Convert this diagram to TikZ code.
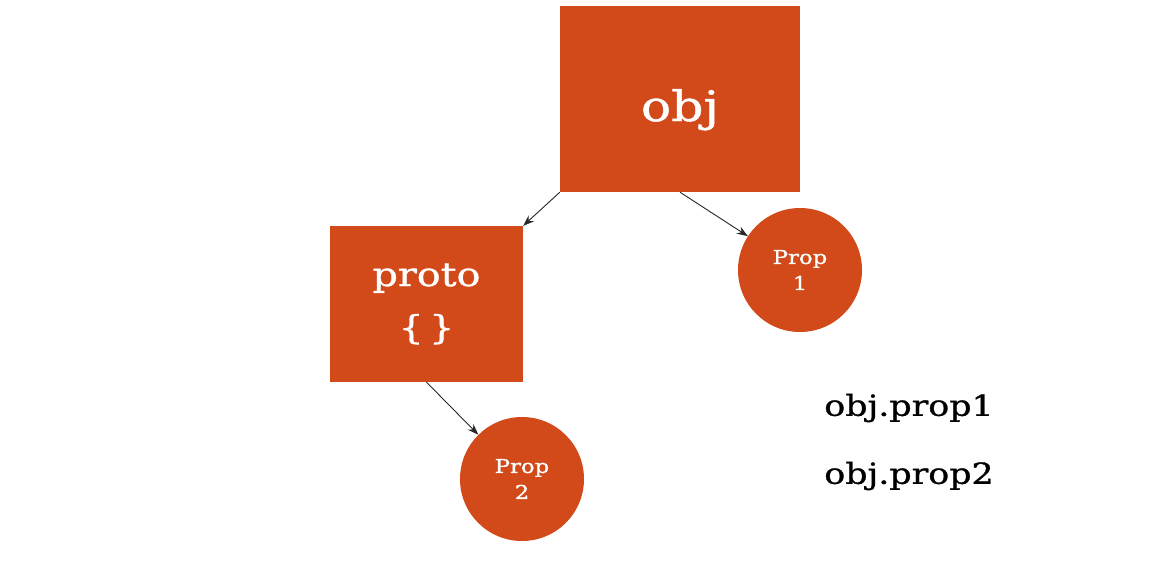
\documentclass[tikz,border=0pt]{standalone}
\usepackage{fontspec}
\setmainfont{DejaVu Serif}[FakeStretch=1.2,FakeBold=1.1]
\usetikzlibrary{arrows.meta}
\definecolor{boxorange}{RGB}{210,74,26}
\definecolor{linegray}{RGB}{40,40,40}
\begin{document}
\begin{tikzpicture}[x=1pt,y=-1pt,
  objbox/.style={fill=boxorange,draw=none,text=white,inner sep=0pt,align=center},
  propdot/.style={circle,fill=boxorange,draw=none,text=white,minimum size=124pt,inner sep=0pt,align=center,font=\fontsize{19}{26}\selectfont},
  link/.style={draw=linegray,line width=0.9pt,-{Stealth[length=11pt,width=8pt]}},
  codeline/.style={anchor=center,font=\fontsize{29}{34}\selectfont}]
  \useasboundingbox (0,0) rectangle (1166,570);
  \fill[white] (0,0) rectangle (1166,570);

  \node[objbox,minimum width=240pt,minimum height=186pt,font=\fontsize{42}{48}\selectfont] (obj) at (680,99) {\raisebox{-22pt}[0pt][0pt]{obj}};
  \node[objbox,minimum width=193pt,minimum height=156pt,font=\fontsize{33}{53}\selectfont] (proto) at (426.5,304) {\raisebox{-3pt}{proto}\\\raisebox{-3pt}{\{\,\}}};
  \node[propdot] (p1) at (800,270) {Prop\\1};
  \node[propdot] (p2) at (522,479) {Prop\\2};

  \draw[link] (obj.south west) -- (proto.north east);
  \draw[link] (obj.south) -- (p1);
  \draw[link] (proto.south) -- (p2);

  \node[codeline] (c1) at (909,408) {obj.prop1};
  \node[codeline] (c2) at (909,476) {obj.prop2};
\end{tikzpicture}
\end{document}
